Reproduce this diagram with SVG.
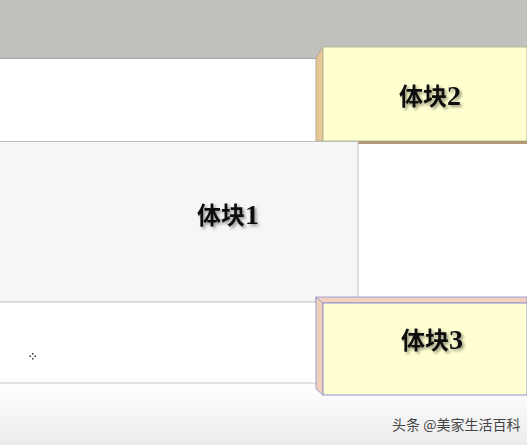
<svg xmlns="http://www.w3.org/2000/svg" width="527" height="445" viewBox="0 0 527 445">
<style>
.lbl{font-family:"Liberation Serif","Noto Sans CJK SC",serif;font-weight:bold;font-size:24px;fill:#111;text-anchor:middle}
.num{font-size:28px}
.wm{font-family:"Noto Sans CJK SC",sans-serif;font-size:14px;fill:#444}
</style>
<defs>
<filter id="sh" x="-20%" y="-20%" width="140%" height="150%">
<feGaussianBlur in="SourceAlpha" stdDeviation="1.5"/>
<feOffset dx="2" dy="2" result="b"/>
<feFlood flood-color="#000" flood-opacity="0.4"/>
<feComposite in2="b" operator="in"/>
<feMerge><feMergeNode/><feMergeNode in="SourceGraphic"/></feMerge>
</filter>
<linearGradient id="bot" x1="0" y1="0" x2="0" y2="1">
<stop offset="0" stop-color="#ffffff"/>
<stop offset="1" stop-color="#ececec"/>
</linearGradient>
</defs>
<rect x="0" y="0" width="527" height="445" fill="#ffffff"/>
<rect x="0" y="0" width="527" height="58" fill="#c0c0bd"/>
<rect x="0" y="383" width="527" height="62" fill="url(#bot)"/>
<g id="slab-top">
<rect x="0" y="58" width="316" height="83" fill="#ffffff"/>
<line x1="0" y1="58.5" x2="316" y2="58.5" stroke="#a8a8a4" stroke-width="1"/>
</g>
<g id="slab-bottom">
<rect x="0" y="302" width="316" height="81" fill="#ffffff"/>
<line x1="0" y1="383" x2="316" y2="383" stroke="#c8c8c8" stroke-width="1.2"/>
</g>
<g id="block2">
<polygon points="316,58 323,47 323,141 316,141" fill="#e8c797" stroke="#a8a08a" stroke-width="0.8"/>
<rect x="323" y="47" width="204" height="94" fill="#ffffcf" stroke="#b8b89a" stroke-width="1"/>
<rect x="316" y="141" width="211" height="3" fill="#b09a78"/>
<text class="lbl" x="430" y="105" filter="url(#sh)">体块<tspan class="num">2</tspan></text>
</g>
<g id="block1">
<rect x="-2" y="141.5" width="360" height="160.5" fill="#f6f7f4" stroke="#bdbdbd" stroke-width="1"/>
<text class="lbl" x="228" y="224" filter="url(#sh)">体块<tspan class="num">1</tspan></text>
</g>
<g id="block3">
<rect x="316" y="297" width="211" height="6" fill="#f3d2bd" stroke="#8f8fcf" stroke-width="0.8"/>
<polygon points="316,297 323,303 323,395 316,389" fill="#f0d0b8" stroke="#8f8fcf" stroke-width="0.8"/>
<rect x="323" y="303" width="204" height="92" fill="#ffffd2" stroke="#8f8fcf" stroke-width="1"/>
<text class="lbl" x="432" y="349" filter="url(#sh)">体块<tspan class="num">3</tspan></text>
</g>
<g id="marker">
<g fill="#333">
<rect x="32" y="353" width="1.5" height="1.5"/>
<rect x="32" y="358" width="1.5" height="1.5"/>
<rect x="29.5" y="355.5" width="1.5" height="1.5"/>
<rect x="34.5" y="355.5" width="1.5" height="1.5"/>
</g>
</g>
<g id="connectors"/>
<text class="wm" x="392" y="430">头条 @美家生活百科</text>
</svg>
